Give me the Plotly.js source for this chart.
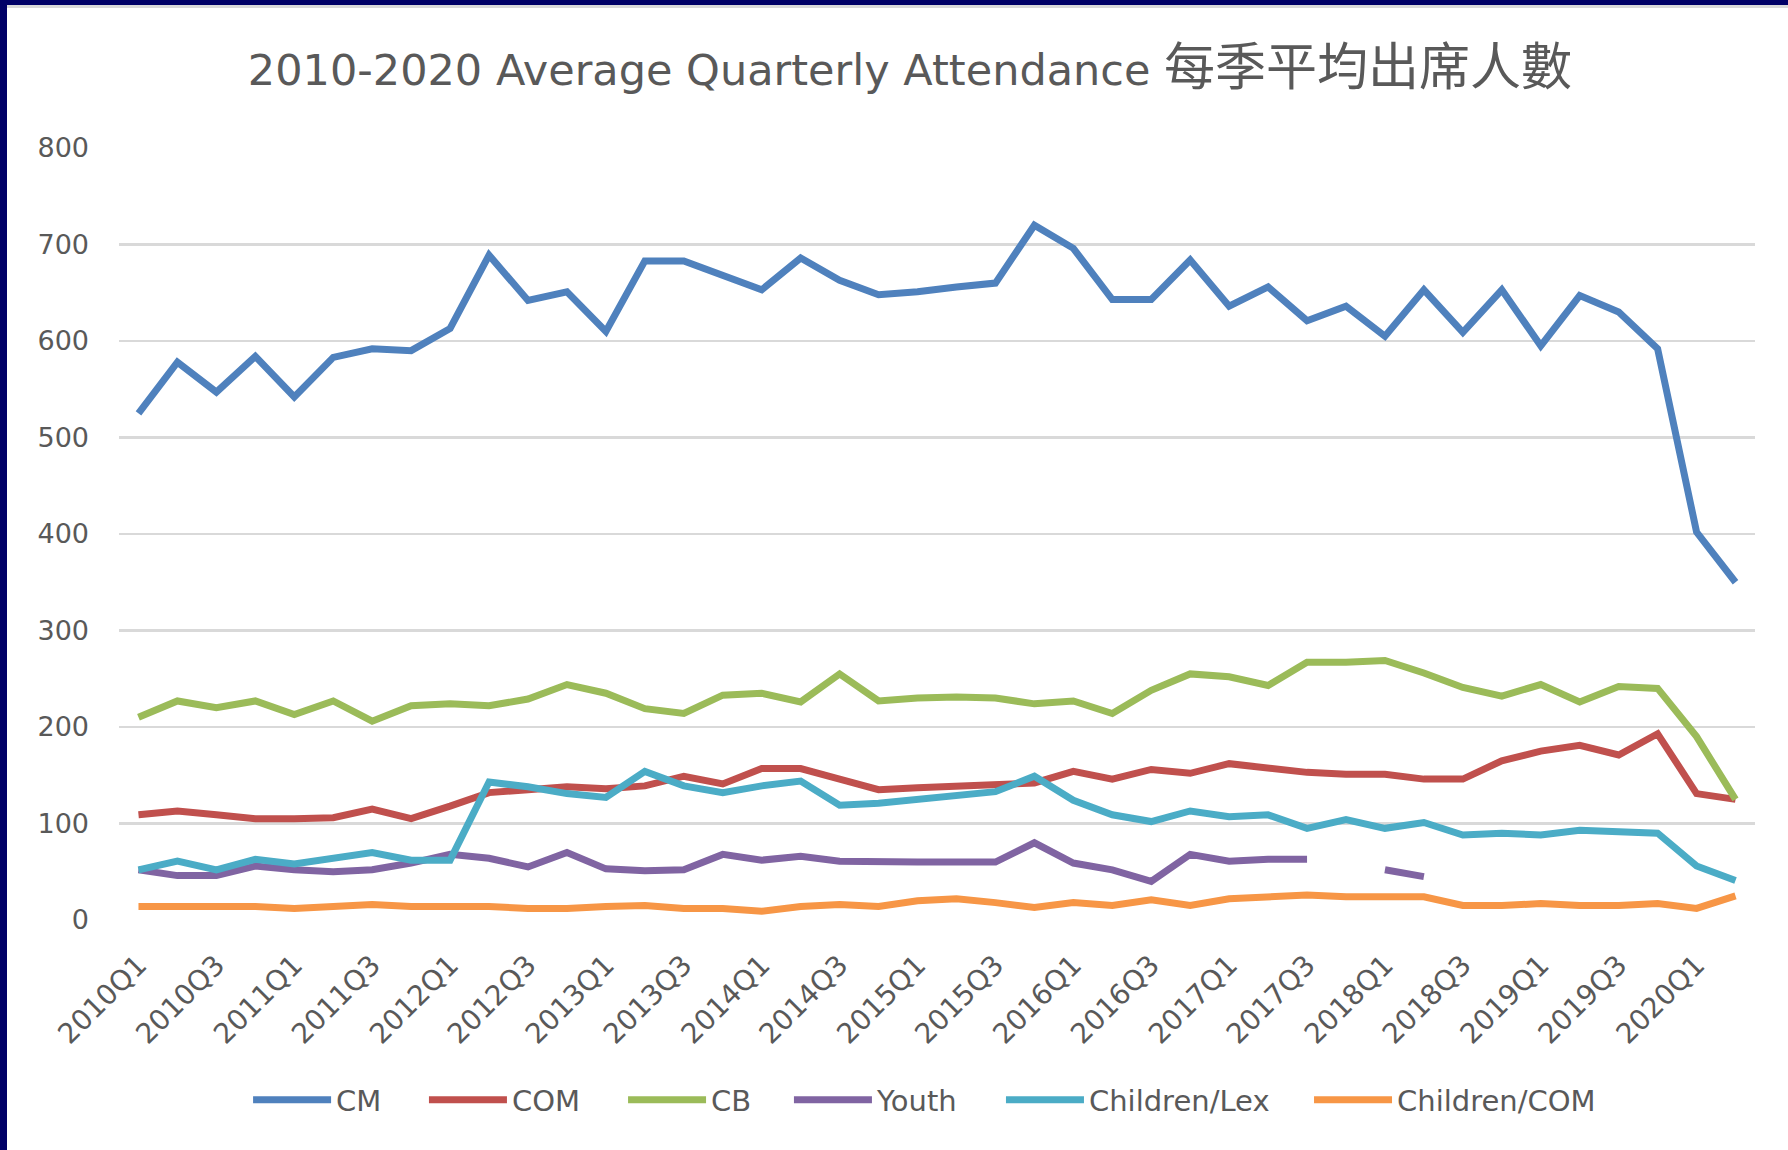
<!DOCTYPE html>
<html>
<head>
<meta charset="utf-8">
<script src="https://cdn.plot.ly/plotly-3.0.1.min.js"></script>
<style>
  html, body { margin: 0; padding: 0; background: #000066; width: 1788px; height: 1150px; overflow: hidden; }
  #wrap { position: absolute; left: 7px; top: 5px; width: 1781px; height: 1145px; background: #ffffff; border-top: 3px solid #d9d9d9; box-sizing: border-box; }
  #chart { width: 1781px; height: 1142px; }
</style>
</head>
<body>
<div id="wrap"><div id="chart"></div></div>
<script>
const quarters = ["2010Q1","2010Q2","2010Q3","2010Q4","2011Q1","2011Q2","2011Q3","2011Q4",
  "2012Q1","2012Q2","2012Q3","2012Q4","2013Q1","2013Q2","2013Q3","2013Q4",
  "2014Q1","2014Q2","2014Q3","2014Q4","2015Q1","2015Q2","2015Q3","2015Q4",
  "2016Q1","2016Q2","2016Q3","2016Q4","2017Q1","2017Q2","2017Q3","2017Q4",
  "2018Q1","2018Q2","2018Q3","2018Q4","2019Q1","2019Q2","2019Q3","2019Q4",
  "2020Q1","2020Q2"];

const cm = [525, 578, 547, 584, 542, 583, 592, 590, 613, 689, 642, 651, 610, 683, 683, 668,
  653, 686, 663, 648, 651, 656, 660, 720, 696, 643, 643, 684, 636, 656, 621, 636,
  605, 653, 609, 653, 595, 647, 630, 592, 402, 350];

const com = [109, 113, 109, 105, 105, 106, 115, 105, 118, 132, 135, 138, 136, 139, 149, 141,
  157, 157, 146, 135, 137, 139, 140, 142, 154, 146, 156, 152, 162, 158, 153, 151,
  151, 146, 146, 165, 175, 181, 171, 193, 131, 125];

const cb = [210, 227, 220, 227, 213, 227, 206, 222, 224, 222, 229, 244, 235, 219, 214, 233,
  235, 226, 255, 227, 230, 231, 230, 224, 227, 214, 238, 255, 252, 243, 267, 267,
  269, 256, 241, 232, 244, 226, 242, 240, 190, 125];

const youth = [52, 46, 46, 56, 52, 50, 52, 59, 68, 64, 55, 70, 53, 51, 52, 68,
  62, 66, 61, 60, 60, 60, 60, 80, 59, 52, 40, 68, 61, 63, 63, null,
  52, 45, null, null, null, null, null, null, null, null];

const childrenLex = [52, 61, 52, 63, 58, 64, 70, 62, 62, 143, 138, 131, 127, 154, 139, 132,
  139, 144, 119, 121, 125, 130, 133, 149, 124, 109, 102, 113, 107, 109, 95, 104,
  95, 101, 88, 90, 88, 93, 91, 90, 56, 41];

const childrenCom = [14, 14, 14, 14, 12, 14, 16, 14, 14, 14, 12, 12, 14, 15, 12, 12,
  9, 14, 16, 14, 20, 22, 18, 13, 18, 15, 21, 15, 22, 24, 26, 24,
  24, 24, 15, 15, 17, 15, 15, 17, 12, 25];

const seriesNames = ["CM", "COM", "CB", "Youth", "Children/Lex", "Children/COM"];
const seriesValues = [cm, com, cb, youth, childrenLex, childrenCom];
const seriesColors = ["#4f81bd", "#c0504d", "#9bbb59", "#8064a2", "#4bacc6", "#f79646"];

const titleLatin = "2010-2020 Average Quarterly Attendance";
const titleChinese = "每季平均出席人數";

// layout: left edge (paper fraction) of each legend entry
const legendLeft = [0.0789, 0.1864, 0.3081, 0.4095, 0.5391, 0.7274];

const legendKey = i => (i === 0 ? "legend" : "legend" + (i + 1));

const traces = seriesNames.map((name, i) => ({
  type: "scatter",
  mode: "lines",
  name: name,
  x: quarters,
  y: seriesValues[i],
  connectgaps: false,
  legend: legendKey(i),
  line: { color: seriesColors[i], width: 7, shape: "linear" },
  hoverinfo: "x+y+name"
}));

const tickQuarters = quarters.filter((q, i) => i % 2 === 0);

const font = "DejaVu Sans, Noto Sans CJK TC, sans-serif";

const layout = {
  width: 1781,
  height: 1142,
  paper_bgcolor: "#ffffff",
  plot_bgcolor: "#ffffff",
  margin: { l: 112, r: 33, t: 140, b: 230 },
  font: { family: font, color: "#595959", size: 27 },
  title: {
    text: titleLatin + " <span style=\"font-size:51px\">" + titleChinese + "</span>",
    font: { family: font, size: 43, color: "#595959" },
    x: 0.507, xanchor: "center",
    y: 0.9457, yanchor: "middle", xref: "container", yref: "container"
  },
  xaxis: {
    type: "category",
    range: [-0.5, 41.5],
    tickmode: "array",
    tickvals: tickQuarters,
    ticktext: tickQuarters,
    tickangle: -45,
    showgrid: false,
    showline: false,
    zeroline: false,
    ticks: "",
    ticklabelstandoff: 22,
    tickfont: { family: font, size: 28, color: "#595959" }
  },
  yaxis: {
    range: [0, 800],
    tickvals: [0, 100, 200, 300, 400, 500, 600, 700, 800],
    showgrid: true,
    gridcolor: "#d9d9d9",
    gridwidth: 2.5,
    zeroline: false,
    showline: false,
    ticks: "",
    ticklabelstandoff: 29,
    tickfont: { family: font, size: 27, color: "#595959" }
  },
  showlegend: true
};

seriesNames.forEach((name, i) => {
  layout[legendKey(i)] = {
    orientation: "h",
    x: legendLeft[i], xanchor: "left",
    y: -0.233, yanchor: "middle",
    font: { family: font, size: 29, color: "#595959" },
    itemwidth: 78,
    bgcolor: "rgba(0,0,0,0)",
    borderwidth: 0
  };
});

Plotly.newPlot("chart", traces, layout, { displayModeBar: false, staticPlot: true });
</script>
</body>
</html>
